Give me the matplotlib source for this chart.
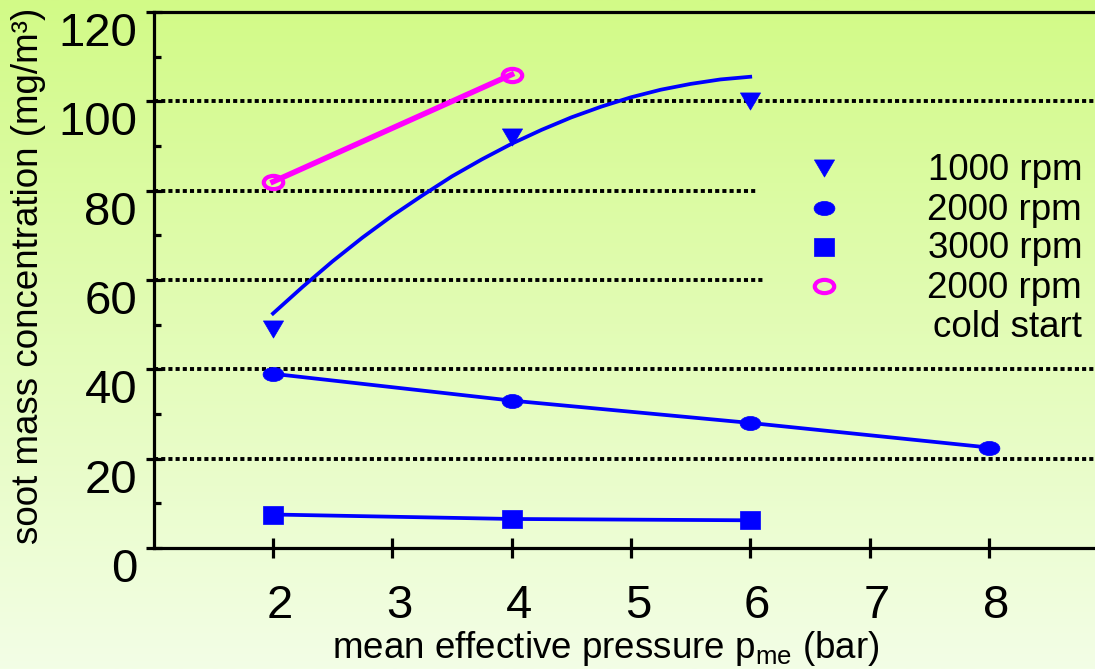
import numpy as np
import matplotlib
matplotlib.use("Agg")
import matplotlib.pyplot as plt
from matplotlib.path import Path
from matplotlib.transforms import Affine2D, ScaledTranslation

plt.rcParams['font.family'] = ['Liberation Sans', 'DejaVu Sans']

# measured soot values (mg/m3) against mean effective pressure (bar)
p_1000 = [2, 4, 6]
soot_1000 = [49, 92, 100]
# trend curve through the 1000 rpm points
trend_p = [2.0, 2.25, 2.5, 2.75, 3.0, 3.25, 3.5, 3.75, 4.0,
           4.25, 4.5, 4.75, 5.0, 5.25, 5.5, 5.75, 6.0]
trend_soot = [52.5, 58.5, 64.2, 69.5, 74.4, 78.9, 83.2, 87.0, 90.5,
              93.6, 96.4, 98.8, 100.9, 102.6, 103.9, 104.9, 105.5]

p_2000 = [2, 4, 6, 8]
soot_2000 = [39, 33, 28, 22.5]

p_3000 = [2, 4, 6]
soot_3000 = [7.5, 6.5, 6.2]

p_cold = [2, 4]
soot_cold = [82, 106]

legend_labels = ['1000 rpm', '2000 rpm', '3000 rpm', '2000 rpm', 'cold start']
grid_levels = [20, 40, 60, 80, 100]
grid_ends = [8.9, 8.9, 6.12, 6.06, 8.9]
x_ticks = [2, 3, 4, 5, 6, 7, 8]
y_ticks = [0, 20, 40, 60, 80, 100, 120]

BLUE = '#0000ff'
MAGENTA = '#ff00ff'

# marker shapes (slightly wider than tall)
tri = Path([(-1, 0.85), (1, 0.85), (0, -0.85), (-1, 0.85)],
           [Path.MOVETO, Path.LINETO, Path.LINETO, Path.CLOSEPOLY])
sq = Path([(-1, -0.85), (1, -0.85), (1, 0.85), (-1, 0.85), (-1, -0.85)],
          [Path.MOVETO, Path.LINETO, Path.LINETO, Path.LINETO, Path.CLOSEPOLY])
ell = Path.unit_circle().transformed(Affine2D().scale(1, 0.68))

W, H = 1095, 669
fig = plt.figure(figsize=(W / 100, H / 100), dpi=100)

# vertical green gradient behind everything
bg = fig.add_axes([0, 0, 1, 1], zorder=-10)
top = np.array([210, 250, 135]) / 255
bot = np.array([243, 254, 230]) / 255
t = np.linspace(0, 1, 256)[:, None]
grad = top * (1 - t) + bot * t
bg.imshow(grad[:, None, :], aspect='auto', extent=[0, 1, 0, 1])
bg.axis('off')

ax = fig.add_axes([153.7 / W, 121 / H, 1 - 153.7 / W, 536 / H])
ax.set_facecolor('none')
ax.set_xlim(1, 8.89)
ax.set_ylim(0, 120)

for s in ['left', 'bottom', 'top']:
    ax.spines[s].set_linewidth(2.3)
    ax.spines[s].set_color('black')
ax.spines['right'].set_visible(False)

ax.set_xticks(x_ticks)
ax.set_yticks(y_ticks)
ax.set_yticks(np.arange(10, 120, 20), minor=True)
ax.tick_params(axis='x', direction='inout', length=14, width=2.3,
               labelsize=34, pad=19)
ax.tick_params(axis='y', which='major', direction='inout', length=12,
               width=2.3, labelsize=34, pad=6)
ax.tick_params(axis='y', which='minor', direction='in', length=5, width=2.3)

for lab in ax.get_xticklabels():
    lab.set_transform(lab.get_transform() + ScaledTranslation(0.07, 0, fig.dpi_scale_trans))
for lab in ax.get_yticklabels():
    lab.set_transform(lab.get_transform() + ScaledTranslation(0, -0.17, fig.dpi_scale_trans))

# dotted horizontal guides
for lvl, end in zip(grid_levels, grid_ends):
    ax.plot([1, end], [lvl, lvl], color='black', lw=2.8,
            linestyle=(0, (1.05, 0.8)), dash_capstyle='butt', clip_on=False, zorder=1)

# 1000 rpm
ax.plot(trend_p, trend_soot, color=BLUE, lw=2.7, zorder=3)
ax.plot(p_1000, soot_1000, linestyle='none', marker=tri, ms=14.5,
        color=BLUE, mec=BLUE, mew=0.5, zorder=4)
# 2000 rpm
ax.plot(p_2000, soot_2000, color=BLUE, lw=2.7, marker=ell, ms=15,
        mfc=BLUE, mec=BLUE, mew=0.5, zorder=4)
# 3000 rpm
ax.plot(p_3000, soot_3000, color=BLUE, lw=2.7, marker=sq, ms=14.5,
        mfc=BLUE, mec=BLUE, mew=0.5, zorder=4)
# 2000 rpm cold start
ax.plot(p_cold, soot_cold, color=MAGENTA, lw=4, marker=ell, ms=14,
        mfc='none', mec=MAGENTA, mew=3, zorder=5, clip_on=False)

# legend drawn by hand: markers on the left, labels right aligned
leg_markers = [dict(marker=tri, ms=14.5, mfc=BLUE, mec=BLUE, mew=0.5),
               dict(marker=ell, ms=15, mfc=BLUE, mec=BLUE, mew=0.5),
               dict(marker=sq, ms=14.5, mfc=BLUE, mec=BLUE, mew=0.5),
               dict(marker=ell, ms=14, mfc='none', mec=MAGENTA, mew=3)]
row_y = [170, 210, 249, 288, 327]
for i, lab in enumerate(legend_labels):
    y = 1 - row_y[i] / H
    if i < len(leg_markers):
        fig.add_artist(plt.Line2D([824 / W], [1 - (row_y[i] - 2) / H],
                                  linestyle='none', **leg_markers[i]))
    fig.text(1082 / W, y, lab, ha='right', va='center', fontsize=26.5)

fig.text(606 / W, 1 - 658 / H, r'mean effective pressure p$_\mathregular{me}$ (bar)',
         ha='center', va='baseline', fontsize=26.5)
fig.text(29 / W, 1 - 276 / H, 'soot mass concentration (mg/m³)',
         ha='center', va='center', rotation=90, fontsize=26.5)

fig.savefig('out.png', dpi=100)
